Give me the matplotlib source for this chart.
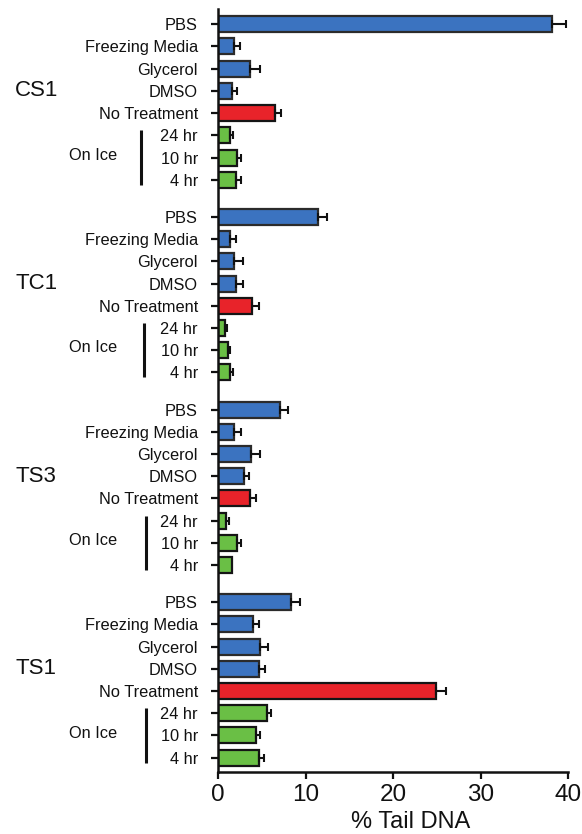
import matplotlib
matplotlib.use("Agg")
import matplotlib.pyplot as plt
import matplotlib.transforms as mtransforms
import numpy as np

plt.rcParams["font.family"] = ["Liberation Sans", "DejaVu Sans"]

# Cell lines and treatment conditions
groups = ["CS1", "TC1", "TS3", "TS1"]
conditions = ["PBS", "Freezing Media", "Glycerol", "DMSO", "No Treatment",
              "24 hr", "10 hr", "4 hr"]
condition_kind = ["frozen", "frozen", "frozen", "frozen", "none",
                  "ice", "ice", "ice"]

# Mean % tail DNA per condition
cs1_mean = [38.2, 1.83, 3.63, 1.6, 6.49, 1.34, 2.2, 2.0]
tc1_mean = [11.4, 1.42, 1.8, 2.1, 3.94, 0.77, 1.15, 1.42]
ts3_mean = [7.06, 1.87, 3.82, 2.98, 3.67, 0.88, 2.18, 1.57]
ts1_mean = [8.32, 4.0, 4.85, 4.7, 24.92, 5.61, 4.39, 4.7]

# Standard error (upper side only)
cs1_err = [1.6, 0.65, 1.22, 0.6, 0.69, 0.38, 0.4, 0.63]
tc1_err = [1.0, 0.61, 1.07, 0.77, 0.76, 0.3, 0.27, 0.34]
ts3_err = [0.96, 0.76, 0.99, 0.61, 0.64, 0.38, 0.45, 0.0]
ts1_err = [1.03, 0.7, 0.84, 0.65, 1.11, 0.46, 0.38, 0.53]

x_ticks = [0, 10, 20, 30, 40]

means = [cs1_mean, tc1_mean, ts3_mean, ts1_mean]
errs = [cs1_err, tc1_err, ts3_err, ts1_err]

colors = {"frozen": "#3b73c0", "none": "#e8232a", "ice": "#6abf45"}
edges = {"frozen": "#2b2b2b", "none": "#151515", "ice": "#151515"}

group_step = 8.67
n = len(conditions)

fig = plt.figure(figsize=(5.82, 8.34), dpi=100)
ax = fig.add_axes([0.3746, 0.0747, 0.6014, 0.9141])

ypos_all, labels_all = [], []
for g, grp in enumerate(groups):
    base = g * group_step
    y = base + np.arange(n)
    for i in range(n):
        kind = condition_kind[i]
        ax.barh(y[i], means[g][i], height=0.72, color=colors[kind],
                edgecolor=edges[kind], linewidth=1.6, zorder=2)
        if errs[g][i] > 0:
            ax.errorbar(means[g][i], y[i], xerr=[[0], [errs[g][i]]],
                        fmt="none", ecolor="#111111", elinewidth=1.5,
                        capsize=3.0, capthick=1.5, zorder=3)
    ypos_all.extend(y)
    labels_all.extend(conditions)

    # group name beside the DMSO row
    trans = mtransforms.blended_transform_factory(fig.transFigure, ax.transData)
    ax.text(15 / 582, base + 3, grp, transform=trans, ha="left", va="center",
            fontsize=16, color="#111111")
    # "On Ice" bracket
    ax.text(117 / 582, base + 6 - 0.1, "On Ice", transform=trans, ha="right",
            va="center", fontsize=11.8, color="#111111")
    lx = [141 / 582, 144 / 582, 146 / 582, 146 / 582][g]
    ax.plot([lx, lx], [base + 4.78, base + 7.22], transform=trans,
            color="#111111", lw=2.2, clip_on=False, solid_capstyle="butt")

ax.set_yticks(ypos_all)
ax.set_yticklabels(labels_all, fontsize=11.8, color="#111111")
ax.set_ylim(3 * group_step + n - 1 + 0.63, -0.67)
ax.set_xlim(0, 40)
ax.set_xticks(x_ticks)
ax.set_xticklabels([str(t) for t in x_ticks], fontsize=17.5, color="#111111")

for side in ["top", "right"]:
    ax.spines[side].set_visible(False)
for side in ["left", "bottom"]:
    ax.spines[side].set_linewidth(1.8)
    ax.spines[side].set_color("#111111")

ax.tick_params(axis="y", length=5, width=1.6, pad=9.5, colors="#111111")
ax.tick_params(axis="x", length=5, width=1.6, pad=3.5, colors="#111111")

ax.set_xlabel("% Tail DNA", fontsize=17, color="#111111")
ax.xaxis.set_label_coords(0.55, -0.066)
ax.xaxis.label.set_va("center")

fig.savefig("out.png", dpi=100)
